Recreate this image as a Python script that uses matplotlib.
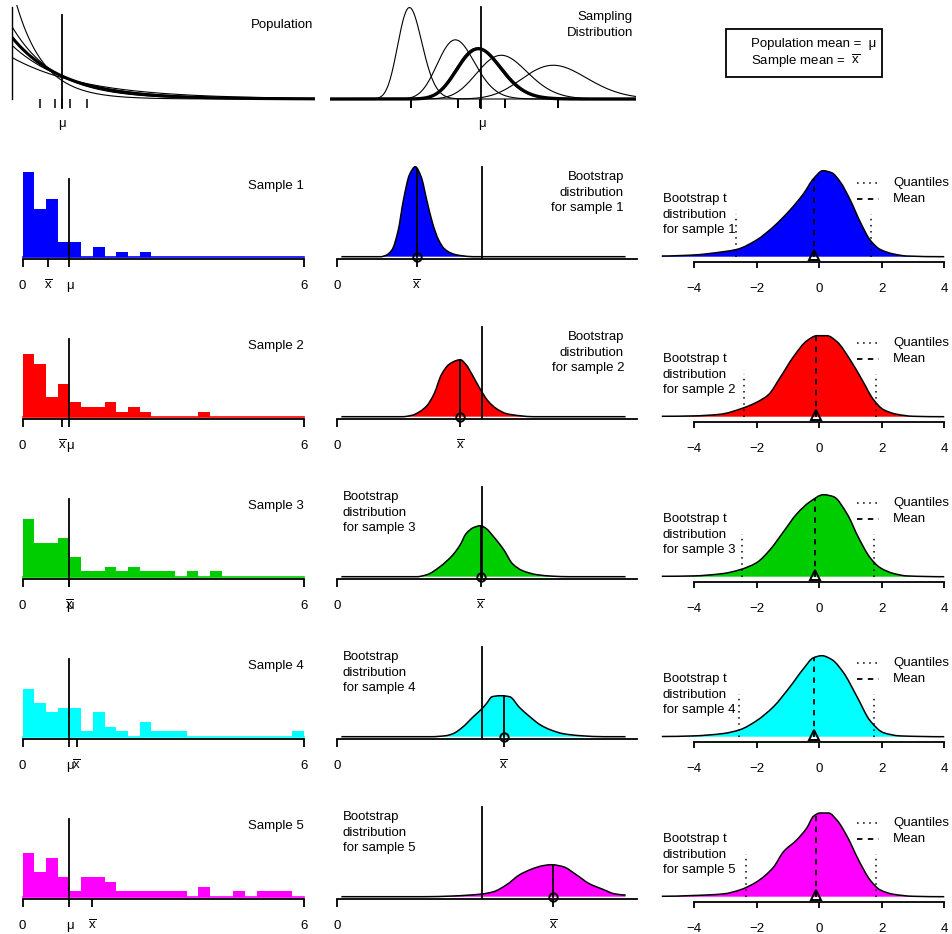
import numpy as np
import matplotlib
matplotlib.use("Agg")
import matplotlib.pyplot as plt
from matplotlib.patches import Rectangle, PathPatch
from matplotlib.path import Path
from math import lgamma

plt.rcParams["font.family"] = ["Liberation Sans", "DejaVu Sans"]
plt.rcParams["mathtext.fontset"] = "custom"
plt.rcParams["mathtext.rm"] = "Liberation Sans"
plt.rcParams["font.size"] = 9.5

W, H = 953, 934
XBAR = r"$\overline{\mathrm{x}}$"

# ── Data ──────────────────────────────────────────────────────────────────────

pop_mean = 1.0
n_obs = 50
sample_means = [0.55, 0.85, 0.99, 1.15, 1.49]
colours = ["#0000FF", "#FF0000", "#00CD00", "#00FFFF", "#FF00FF"]

# sample histograms, bin width 0.25 starting at 0 (counts)
bin_width = 0.25
hist1 = [17, 9.5, 11.5, 3, 3, 0, 2, 0, 1, 0, 1]
hist2 = [12.5, 10.5, 4, 6.5, 3, 2, 2, 3, 1, 2, 1, 0, 0, 0, 0, 1]
hist3 = [11.5, 6.7, 6.7, 7.7, 3.9, 1.1, 1.1, 1.9, 1.1, 1.9, 1.1, 1.1, 1.1, 0, 1.1, 0, 1.1]
hist4 = [9.5, 6.7, 4.9, 5.7, 5.7, 1.1, 4.9, 1.9, 1.1, 0, 2.9, 1.1, 1.1, 1.1,
         0, 0, 0, 0, 0, 0, 0, 0, 0, 1.1]
hist5 = [8.7, 4.9, 7.7, 3.9, 1.1, 3.9, 3.9, 2.9, 1.1, 1.1, 1.1, 1.1, 1.1, 1.1,
         0, 1.9, 0, 0, 1.1, 0, 1.1, 1.1, 1.1]

# bootstrap distributions of the mean (relative density)
boot1_x = [0.03, 0.30, 0.34, 0.38, 0.42, 0.46, 0.50, 0.54, 0.58, 0.62, 0.66, 0.70,
           0.74, 0.78, 0.82, 0.86, 0.94, 1.99]
boot1_h = [0, 0, 1.5, 7, 25, 58, 82, 90, 80, 56, 33, 17, 8, 4, 2, 1, 0, 0]
boot2_x = [0.03, 0.45, 0.52, 0.57, 0.62, 0.67, 0.72, 0.77, 0.82, 0.85, 0.89, 0.94,
           0.99, 1.04, 1.10, 1.17, 1.26, 1.35, 1.99]
boot2_h = [0, 0, 1.5, 5, 11, 23, 42, 52, 56, 57, 52, 40, 27, 16, 8, 3, 1, 0, 0]
boot3_x = [0.03, 0.55, 0.62, 0.71, 0.80, 0.85, 0.89, 0.94, 0.99, 1.03, 1.08, 1.15,
           1.21, 1.28, 1.38, 1.49, 1.60, 1.99]
boot3_h = [0, 0, 2, 10, 22, 32, 43, 49, 51, 48, 40, 27, 13, 6, 2, 0.5, 0, 0]
boot4_x = [0.03, 0.65, 0.75, 0.80, 0.87, 0.94, 1.00, 1.03, 1.07, 1.13, 1.19, 1.26,
           1.33, 1.40, 1.47, 1.56, 1.68, 1.84, 1.99]
boot4_h = [0, 0, 1, 3, 10, 20, 28, 33, 40, 41, 40, 29, 20, 12, 7, 3, 1, 0, 0]
boot5_x = [0.03, 0.60, 0.80, 0.90, 1.00, 1.08, 1.17, 1.26, 1.35, 1.42, 1.48, 1.56,
           1.65, 1.74, 1.84, 1.91, 1.99]
boot5_h = [0, 0, 0.7, 1.5, 2.7, 5, 12, 22, 28, 31, 32, 30, 22, 13, 7, 3, 1.7]

# bootstrap t distributions (relative density)
tdist1_x = [-5.03, -4.02, -3.06, -2.63, -2.0, -1.46, -0.93, -0.50, -0.18, 0.12, 0.40,
            0.67, 0.99, 1.31, 1.63, 1.95, 2.38, 2.80, 4.0]
tdist1_h = [0.7, 1.7, 5, 7.3, 16.7, 30, 46.7, 63, 78, 86, 84, 75, 57, 35, 16.7, 7.3,
            2.7, 0.7, 0]
tdist2_x = [-5.03, -4.02, -3.17, -2.42, -2.0, -1.62, -1.25, -0.82, -0.39, -0.07, 0.25,
            0.57, 0.99, 1.37, 1.74, 2.06, 2.49, 3.02, 4.0]
tdist2_h = [0.4, 0.8, 2.4, 8.8, 14.4, 22, 39, 60, 76, 81, 81, 75, 57, 37, 17, 7, 2.4,
            0.4, 0]
tdist3_x = [-5.03, -4.02, -3.06, -2.53, -2.0, -1.57, -1.14, -0.71, -0.29, 0.14, 0.46,
            0.89, 1.26, 1.63, 1.95, 2.38, 2.80, 4.0]
tdist3_h = [0.4, 0.8, 3.2, 7, 14, 27, 45, 63, 75, 82, 80, 63, 39, 19, 9, 3.2, 0.8, 0]
tdist4_x = [-5.03, -4.02, -3.06, -2.53, -2.0, -1.46, -0.93, -0.50, -0.18, 0.09, 0.41,
            0.78, 1.21, 1.63, 2.06, 2.59, 4.0]
tdist4_h = [0.2, 0.8, 3.2, 7, 16, 30, 50, 68, 79, 81, 77, 64, 40, 16, 4, 0.8, 0]
tdist5_x = [-5.03, -4.02, -3.06, -2.53, -2.0, -1.46, -1.14, -0.71, -0.39, -0.18, 0.03,
            0.30, 0.57, 0.89, 1.26, 1.63, 1.95, 2.38, 3.02, 4.0]
tdist5_h = [0.4, 1.2, 2.8, 6.8, 14.8, 29.5, 45, 57, 69, 80.5, 83.7, 83.7, 76.5, 60.6,
            36.7, 16.7, 6.8, 2.4, 0.4, 0]

t_means = [-0.16, -0.11, -0.13, -0.15, -0.11]
t_q_low = [-2.67, -2.40, -2.47, -2.56, -2.34]
t_q_high = [1.65, 1.81, 1.74, 1.74, 1.81]
t_ticks = [-4, -2, 0, 2, 4]

hists = [hist1, hist2, hist3, hist4, hist5]
boots = [(boot1_x, boot1_h), (boot2_x, boot2_h), (boot3_x, boot3_h),
         (boot4_x, boot4_h), (boot5_x, boot5_h)]
tdists = [(tdist1_x, tdist1_h), (tdist2_x, tdist2_h), (tdist3_x, tdist3_h),
          (tdist4_x, tdist4_h), (tdist5_x, tdist5_h)]

# ── Layout (pixels) ───────────────────────────────────────────────────────────

BASE = [99, 256.7, 416.7, 576.7, 736.7, 896.7]
LW = 1.3


def px_axes(fig, left, right, base, below, above, xlim, k):
    rect = [left / W, 1 - (base + below) / H, (right - left) / W, (below + above) / H]
    ax = fig.add_axes(rect)
    ax.patch.set_visible(False)
    for s in ax.spines.values():
        s.set_visible(False)
    ax.set_xticks([])
    ax.set_yticks([])
    ax.set_xlim(*xlim)
    ax.set_ylim(-below / k, above / k)
    return ax


def bottom_axis(ax, ticks, bounds, length):
    sp = ax.spines["bottom"]
    sp.set_visible(True)
    sp.set_linewidth(LW)
    sp.set_bounds(*bounds)
    ax.set_xticks(ticks)
    ax.tick_params(axis="x", direction="out", length=length, width=LW,
                   labelbottom=False)


def smooth_path(x, y, close=False):
    """Monotone cubic (PCHIP-style) Bezier path through the read points."""
    x = np.asarray(x, float)
    y = np.asarray(y, float)
    h = np.diff(x)
    d = np.diff(y) / h
    m = np.zeros_like(y)
    for i in range(1, len(x) - 1):
        if d[i - 1] * d[i] > 0:
            w1 = 2 * h[i] + h[i - 1]
            w2 = h[i] + 2 * h[i - 1]
            m[i] = (w1 + w2) / (w1 / d[i - 1] + w2 / d[i])
    verts = [(x[0], y[0])]
    codes = [Path.MOVETO]
    for i in range(len(x) - 1):
        verts += [(x[i] + h[i] / 3, y[i] + m[i] * h[i] / 3),
                  (x[i + 1] - h[i] / 3, y[i + 1] - m[i + 1] * h[i] / 3),
                  (x[i + 1], y[i + 1])]
        codes += [Path.CURVE4] * 3
    if close:
        verts += [(x[-1], 0), (x[0], 0), (x[0], 0)]
        codes += [Path.LINETO, Path.LINETO, Path.CLOSEPOLY]
    return Path(verts, codes)


def draw_density(ax, x, y, colour=None, lw=1.1):
    if colour is not None:
        ax.add_patch(PathPatch(smooth_path(x, y, close=True), facecolor=colour,
                               edgecolor="none"))
    ax.add_patch(PathPatch(smooth_path(x, y), facecolor="none", edgecolor="k", lw=lw))


def gamma_mean_pdf(xs, mean, n):
    rate = n / mean
    return np.exp((n - 1) * np.log(xs) - rate * xs + n * np.log(rate) - lgamma(n))


fig = plt.figure(figsize=(W / 100, H / 100), dpi=100)

# ── Top row: population and sampling distribution ─────────────────────────────

k = 62.0
ax = px_axes(fig, 11.7, 315, BASE[0], 12, 94, (0, 6), k)
xs = np.linspace(0, 6, 400)
for m in sample_means:
    ax.plot(xs, np.exp(-xs / m) / m, color="k", lw=0.8)
ax.plot(xs, np.exp(-xs / pop_mean) / pop_mean, color="k", lw=2.2)
ax.plot([0, 0], [0, 92 / k], color="k", lw=1.0, clip_on=False)
ax.vlines(sample_means, -9 / k, 0, color="k", lw=1.1)
ax.plot([pop_mean, pop_mean], [-9 / k, 84 / k], color="k", lw=LW)
ax.text(pop_mean, -28 / k, "μ", ha="center", va="baseline", clip_on=False)
ax.text(5.97, 74 / k, "Population", ha="right", va="center")

k = 1.04
samp_scale = 17.0
ax = px_axes(fig, 330, 636, BASE[0], 12, 94, (0.03, 1.99), k)
gx = np.linspace(0.03, 1.99, 500)
for m in sample_means:
    ax.plot(gx, gamma_mean_pdf(gx, m, n_obs) * samp_scale, color="k", lw=0.8)
ax.plot(gx, gamma_mean_pdf(gx, pop_mean, n_obs) * samp_scale, color="k", lw=2.4)
ax.vlines(sample_means, -9 / k, 0, color="k", lw=1.4)
ax.plot([pop_mean, pop_mean], [-9 / k, 92 / k], color="k", lw=LW)
ax.text(pop_mean, -28 / k, "μ", ha="center", va="baseline", clip_on=False)
ax.text(1.97, 74 / k, "Sampling\nDistribution", ha="right", va="center",
        multialignment="right", linespacing=1.45)

fig.patches.append(Rectangle((726 / W, 1 - 77.3 / H), (881.7 - 726) / W, 48 / H,
                             transform=fig.transFigure, fill=False, lw=LW,
                             edgecolor="k"))
fig.text(750.7 / W, 1 - 44.3 / H, "Population mean =  μ", va="center")
fig.text(750.7 / W, 1 - 61 / H, "Sample mean =  " + XBAR, va="center")

# ── Rows 2-6 ──────────────────────────────────────────────────────────────────

for i in range(5):
    base = BASE[i + 1]
    c = colours[i]
    xbar = sample_means[i]

    # sample histogram
    k = 5.0
    ax = px_axes(fig, 11.4, 315, base, 2.6, 95, (-0.24, 6.24), k)
    edges = np.arange(len(hists[i])) * bin_width
    ax.bar(edges, hists[i], width=bin_width, align="edge", color=c, lw=0)
    ax.plot([0, 6], [0, 0], color=c, lw=1.2)
    ax.plot([pop_mean, pop_mean], [-2.6 / k, 78 / k], color="k", lw=LW)
    bottom_axis(ax, [0, xbar, pop_mean, 6], (0, 6), 5.8)
    for xv, lab in [(0, "0"), (xbar, XBAR), (pop_mean, "μ"), (6, "6")]:
        ax.text(xv, -32.3 / k, lab, ha="center", va="baseline", clip_on=False)
    ax.text(6, 71 / k, f"Sample {i + 1}", ha="right", va="center")

    # bootstrap distribution of the mean
    bx, bh = boots[i]
    ax = px_axes(fig, 329.75, 637.15, base, 2.6, 95, (-0.05, 2.07), 1.0)
    draw_density(ax, bx, bh, c)
    ax.plot([pop_mean, pop_mean], [-2.6, 90], color="k", lw=LW)
    ax.plot([xbar, xbar], [0, np.interp(xbar, bx, bh)], color="k", lw=LW)
    ax.plot(xbar, 0, "o", mfc="none", mec="k", ms=6, mew=1.4, clip_on=False)
    bottom_axis(ax, [0, xbar], (0, 2.07), 5.8)
    ax.text(0, -32.6, "0", ha="center", va="baseline", clip_on=False)
    ax.text(xbar, -32.6, XBAR, ha="center", va="baseline", clip_on=False)
    label = f"Bootstrap\ndistribution\nfor sample {i + 1}"
    if i < 2:
        ax.text(1.98, 64, label, ha="right", va="center", multialignment="right",
                linespacing=1.42)
    else:
        ax.text(0.04, 64, label, ha="left", va="center", linespacing=1.42)

    # bootstrap t distribution
    tx, th = tdists[i]
    ax = px_axes(fig, 651.5, 953, base, 5, 95, (-5.36, 4.28), 1.0)
    draw_density(ax, tx, th, c)
    for q in (t_q_low[i], t_q_high[i]):
        ax.plot([q, q], [0, 43], color="k", lw=1.1, ls=(0, (1, 3)))
    tm = t_means[i]
    ax.plot([tm, tm], [0, np.interp(tm, tx, th)], color="k", lw=LW, ls=(0, (3, 3)))
    ax.plot(tm, 1.5, "^", mfc="none", mec="k", ms=7, mew=1.4, clip_on=False)
    bottom_axis(ax, t_ticks, (-4, 4), 4.1)
    for tv in t_ticks:
        ax.text(tv, -35, str(tv).replace("-", "\u2212"), ha="center", va="baseline",
                clip_on=False)
    ax.plot([1.21, 1.90], [74, 74], color="k", lw=1.1, ls=(0, (1, 3)))
    ax.plot([1.21, 1.90], [57.7, 57.7], color="k", lw=LW, ls=(0, (3, 3)))
    ax.text(2.37, 74, "Quantiles", ha="left", va="center", clip_on=False)
    ax.text(2.37, 57.7, "Mean", ha="left", va="center", clip_on=False)
    ax.text(-5.0, 42, f"Bootstrap t\ndistribution\nfor sample {i + 1}",
            ha="left", va="center", linespacing=1.36)

fig.savefig("out.png", dpi=100)
